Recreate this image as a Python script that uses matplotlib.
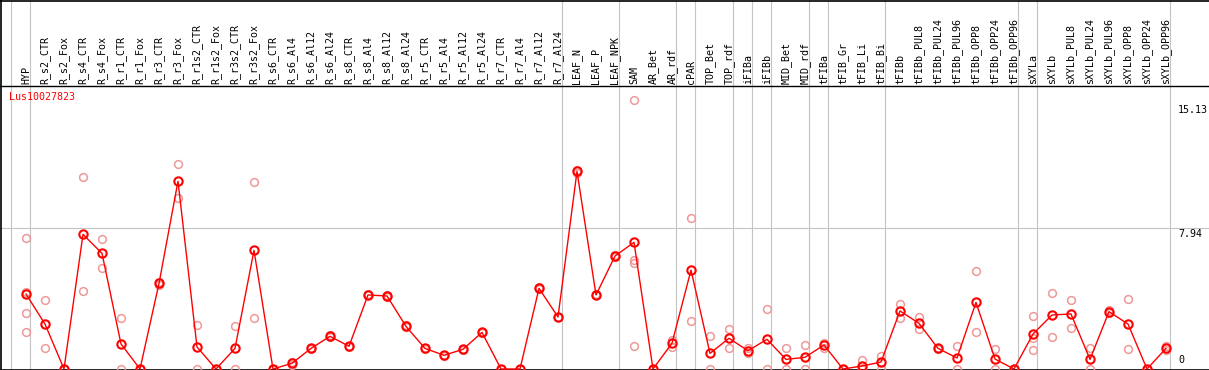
import numpy as np
import matplotlib
matplotlib.use('Agg')
import matplotlib.pyplot as plt

# expression profile for one gene across 61 samples
labels = ['HYP', 'R_s2_CTR', 'R_s2_Fox', 'R_s4_CTR', 'R_s4_Fox', 'R_r1_CTR', 'R_r1_Fox',
          'R_r3_CTR', 'R_r3_Fox', 'R_r1s2_CTR', 'R_r1s2_Fox', 'R_r3s2_CTR', 'R_r3s2_Fox',
          'R_s6_CTR', 'R_s6_Al4', 'R_s6_Al12', 'R_s6_Al24', 'R_s8_CTR', 'R_s8_Al4',
          'R_s8_Al12', 'R_s8_Al24', 'R_r5_CTR', 'R_r5_Al4', 'R_r5_Al12', 'R_r5_Al24',
          'R_r7_CTR', 'R_r7_Al4', 'R_r7_Al12', 'R_r7_Al24', 'LEAF_N', 'LEAF_P', 'LEAF_NPK',
          'SAM', 'AR_Bet', 'AR_rdf', 'cPAR', 'TOP_Bet', 'TOP_rdf', 'iFIBa', 'iFIBb',
          'MID_Bet', 'MID_rdf', 'tFIBa', 'tFIB_Gr', 'tFIB_Li', 'tFIB_Bi', 'tFIBb',
          'tFIBb_PUL8', 'tFIBb_PUL24', 'tFIBb_PUL96', 'tFIBb_OPP8', 'tFIBb_OPP24',
          'tFIBb_OPP96', 'sXYLa', 'sXYLb', 'sXYLb_PUL8', 'sXYLb_PUL24', 'sXYLb_PUL96',
          'sXYLb_OPP8', 'sXYLb_OPP24', 'sXYLb_OPP96']

means = [4.22, 2.53, 0.0, 7.58, 6.51, 1.41, 0.0, 4.82, 10.57, 1.24, 0.0, 1.16, 6.68,
         0.0, 0.32, 1.16, 1.84, 1.28, 4.17, 4.11, 2.40, 1.16, 0.77, 1.11, 2.06,
         0.0, 0.0, 4.54, 2.93, 11.13, 4.17, 6.36, 7.13, 0.0, 1.45, 5.57, 0.88, 1.73,
         1.03, 1.67, 0.54, 0.66, 1.35, 0.0, 0.17, 0.39, 3.27, 2.57, 1.16, 0.62, 3.75,
         0.56, 0.0, 1.97, 3.04, 3.10, 0.54, 3.23, 2.53, 0.0, 1.16]

# replicate values per sample
reps = [[7.36, 4.35, 3.13, 2.06], [3.87, 1.16], [0, 0], [10.81, 4.37], [7.30, 5.67],
        [2.85, 0], [0, 0], [4.90, 4.75], [11.53, 9.61], [2.46, 0], [0, 0], [2.40, 0],
        [10.51, 2.85], [0, 0], [0.4, 0.25], [1.2, 1.1], [1.9, 1.8], [1.3, 1.25],
        [4.2, 4.15], [4.15, 4.05], [2.45, 2.35], [1.2, 1.1], [0.8, 0.75], [1.15, 1.05],
        [2.1, 2.0], [0, 0], [0, 0], [4.6, 4.5], [2.95, 2.9], [11.2, 11.05], [4.2, 4.15],
        [6.4, 6.3], [15.13, 6.12, 5.98, 1.28], [0, 0], [1.63, 1.26], [8.48, 2.68],
        [1.84, 0], [2.23, 1.20], [1.16, 0.88], [3.36, 0], [1.16, 0], [1.35, 0],
        [1.48, 1.20], [0, 0], [0.51, 0, 0], [0.75, 0], [3.66, 2.85], [2.93, 2.23],
        [1.20, 1.10], [1.30, 0], [5.52, 2.06], [1.13, 0], [0, 0], [2.98, 1.73, 1.07],
        [4.26, 1.78], [3.87, 2.29], [1.16, 0], [3.30, 3.15], [3.94, 1.13], [0, 0],
        [1.30, 1.07]]

# last sample index of each group (grey separators)
group_ends = [-1, 0, 28, 31, 34, 35, 37, 38, 39, 41, 42, 45, 52, 53, 60]

gene = 'Lus10027823'
ytick_vals = [15.13, 7.94, 0]
ytick_text = ['15.13', '7.94', '0']

W, H = 1209, 370
x0, dx = 26, 19.0        # pixel of first sample, pixels per sample
y0, dy = 369, 17.76      # pixel of zero, pixels per unit


def px(p):
    return (p - x0) / dx


def py(p):
    return (y0 - p) / dy


fig = plt.figure(figsize=(W / 100, H / 100), dpi=100)
ax = fig.add_axes([0, 0, 1, 1])
ax.set_xlim(px(0), px(W))
ax.set_ylim(py(H), py(0))
ax.axis('off')

font = 'DejaVu Sans Mono'
grey = '#c4c4c4'

# grid
for g in group_ends:
    ax.axvline(g + 0.21, color=grey, lw=0.8, zorder=1)
ax.axhline(ytick_vals[1], color=grey, lw=0.8, zorder=1)

# frame
ax.axhline(py(0.5), color='black', lw=1.2, zorder=2)
ax.axhline(py(85.5), color='black', lw=1.0, zorder=2)
ax.axhline(py(369.5), color='black', lw=1.2, zorder=2)
ax.axvline(px(1.0), color='black', lw=1.2, zorder=2)

x = np.arange(len(labels))

for i, r in enumerate(reps):
    ax.plot([i] * len(r), r, 'o', ms=5.6, mfc='none', mec='#ee9999', mew=1.1,
            zorder=3, clip_on=False)

ax.plot(x, means, '-', color='red', lw=1.0, zorder=4)
ax.plot(x, means, 'o', ms=6.0, mfc='none', mec='red', mew=1.5, zorder=5, clip_on=False)

for i, lab in enumerate(labels):
    ax.text(i, py(84), lab, rotation=90, ha='center', va='bottom',
            fontsize=7.2, family=font)

ax.text(px(9), py(97), gene, color='red', fontsize=7.2, family=font,
        ha='left', va='center')

ax.text(px(1178), ytick_vals[0] - 0.25, ytick_text[0], fontsize=7.2, family=font,
        ha='left', va='top')
ax.text(px(1178), ytick_vals[1] - 0.05, ytick_text[1], fontsize=7.2, family=font,
        ha='left', va='top')
ax.text(px(1178), ytick_vals[2] + 0.2, ytick_text[2], fontsize=7.2, family=font,
        ha='left', va='bottom')

fig.savefig('out.png', dpi=100)
